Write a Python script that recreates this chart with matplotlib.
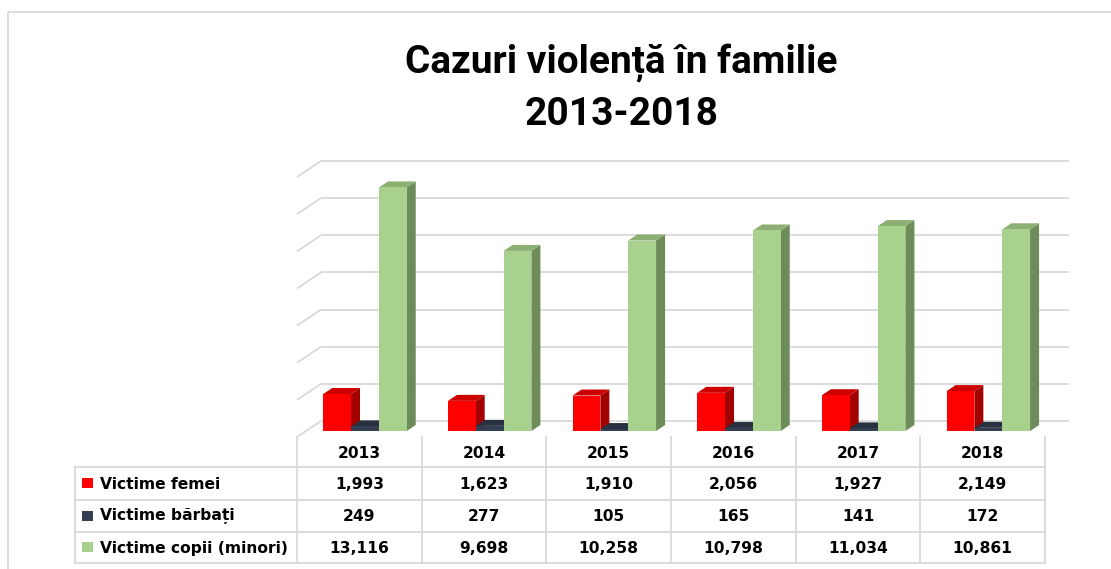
import matplotlib
matplotlib.use("Agg")
import matplotlib.pyplot as plt
from matplotlib.patches import Polygon, Rectangle
from matplotlib.lines import Line2D

# ---------------- data ----------------
years = ["2013", "2014", "2015", "2016", "2017", "2018"]
series_names = ["Victime femei", "Victime bărbați", "Victime copii (minori)"]
femei = [1993, 1623, 1910, 2056, 1927, 2149]
barbati = [249, 277, 105, 165, 141, 172]
copii = [13116, 9698, 10258, 10798, 11034, 10861]
y_ticks = [0, 2000, 4000, 6000, 8000, 10000, 12000, 14000]
title_lines = ["Cazuri violență în familie", "2013-2018"]

# ---------------- styling ----------------
front_cols = ["#FF0000", "#333F50", "#A9D18E"]
top_cols = ["#CC0000", "#27313F", "#8CAF74"]
side_cols = ["#A30000", "#1E2630", "#6E8B5A"]
grid_col = "#D9D9D9"

W, H = 1111, 569
fig = plt.figure(figsize=(W / 100, H / 100), dpi=100)
fig.patch.set_facecolor("white")

# pixel geometry of the plot region
PX_CAT0 = 297.0          # left edge of category -0.5 (front)
PX_CAT = 124.667         # pixels per category
PY_FLOOR = 437.0         # front floor line (value 0)
K = 37.14 / 2000.0       # pixels per value unit

ax_l, ax_r, ax_t, ax_b = 250, 1100, 140, 450
ax = fig.add_axes([ax_l / W, (H - ax_b) / H, (ax_r - ax_l) / W, (ax_b - ax_t) / H])
ax.set_xlim(-0.5 + (ax_l - PX_CAT0) / PX_CAT, -0.5 + (ax_r - PX_CAT0) / PX_CAT)
ax.set_ylim(-(ax_b - PY_FLOOR) / K, (PY_FLOOR - ax_t) / K)
ax.axis("off")

# depth of the 3D box (in data units)
DX = 24.0 / PX_CAT
DY = 16.0 / K
bar_depth = 0.375
fx, fy = DX * bar_depth, DY * bar_depth

# back wall gridlines + side diagonals
x_front_left, x_front_right = -0.5, 5.5
for v in y_ticks:
    ax.add_line(Line2D([x_front_left, x_front_left + DX], [v, v + DY],
                       color=grid_col, lw=1.3, zorder=1, solid_capstyle="butt"))
    ax.add_line(Line2D([x_front_left + DX, x_front_right + DX], [v + DY, v + DY],
                       color=grid_col, lw=1.3, zorder=1, solid_capstyle="butt"))

# bars
offsets = [-0.178, 0.046, 0.269]
width = 0.2225
series = [femei, barbati, copii]
z = 3
for i in range(len(years)):
    for j, vals in enumerate(series):
        v = vals[i]
        x0 = i + offsets[j] - width / 2
        x1 = x0 + width
        b = fy
        # side face
        ax.add_patch(Polygon([(x1, b), (x1, b + v), (x1 + fx, b + v + fy), (x1 + fx, b + fy)],
                             closed=True, facecolor=side_cols[j], edgecolor="none", zorder=z))
        # top face
        ax.add_patch(Polygon([(x0, b + v), (x1, b + v), (x1 + fx, b + v + fy), (x0 + fx, b + v + fy)],
                             closed=True, facecolor=top_cols[j], edgecolor="none", zorder=z))
        # front face
        ax.bar(i + offsets[j], v, width=width, bottom=b, color=front_cols[j],
               edgecolor="none", zorder=z + 0.5)
        z += 1

# ---------------- overlay axes in pixel coordinates ----------------
ov = fig.add_axes([0, 0, 1, 1], zorder=-1)
ov.set_xlim(0, W)
ov.set_ylim(H, 0)
ov.axis("off")

# outer frame
ov.add_line(Line2D([8, 8, W], [H, 12, 12], color=grid_col, lw=1.3))

# title
title_font = ["Roboto", "DejaVu Sans"]
ov.text(621.7, 73, title_lines[0], ha="center", va="baseline", fontsize=28,
        fontweight="bold", family=title_font, color="black")
ov.text(621.7, 125, title_lines[1], ha="center", va="baseline", fontsize=28,
        fontweight="bold", family=title_font, color="black")

# data table
col_edges = [PX_CAT0 + PX_CAT * k for k in range(len(years) + 1)]
row_edges = [467, 499.5, 531.5, 563]
tbl_left = 75
lc = grid_col
for y in row_edges:
    ov.add_line(Line2D([tbl_left, col_edges[-1]], [y, y], color=lc, lw=1.3))
for x in col_edges:
    ov.add_line(Line2D([x, x], [PY_FLOOR, row_edges[-1]], color=lc, lw=1.3))
ov.add_line(Line2D([tbl_left, tbl_left], [row_edges[0], row_edges[-1]], color=lc, lw=1.3))

tfont = dict(fontsize=11.2, fontweight="bold", family="DejaVu Sans", color="black")
for i, yr in enumerate(years):
    cx = (col_edges[i] + col_edges[i + 1]) / 2
    ov.text(cx, (PY_FLOOR + row_edges[0]) / 2 + 1, yr, ha="center", va="center", **tfont)
for r, (name, vals) in enumerate(zip(series_names, series)):
    cy = (row_edges[r] + row_edges[r + 1]) / 2
    ov.add_patch(Rectangle((82, cy - 5), 11, 10, facecolor=front_cols[r], edgecolor="none"))
    ov.text(100, cy + 1, name, ha="left", va="center", **tfont)
    for i, v in enumerate(vals):
        cx = (col_edges[i] + col_edges[i + 1]) / 2
        ov.text(cx, cy + 1, f"{v:,}", ha="center", va="center", **tfont)

fig.savefig("out.png", dpi=100, facecolor="white")
